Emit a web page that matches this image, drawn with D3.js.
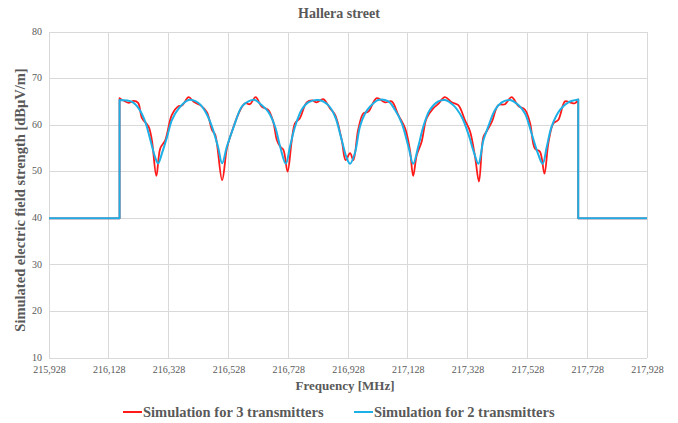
<!DOCTYPE html>
<html>
<head>
<meta charset="utf-8">
<script src="https://cdn.jsdelivr.net/npm/d3@7"></script>
<style>
  html, body { margin: 0; padding: 0; background: #ffffff; }
  svg { display: block; }
  text { font-family: "Liberation Serif", "Times New Roman", serif; }
</style>
</head>
<body>
<svg id="chart" width="678" height="423"></svg>
<script>
// ---- data ----
const xTicks = [215.928, 216.128, 216.328, 216.528, 216.728, 216.928, 217.128, 217.328, 217.528, 217.728, 217.928];
const xTickLabels = ["215,928", "216,128", "216,328", "216,528", "216,728", "216,928", "217,128", "217,328", "217,528", "217,728", "217,928"];
const yTicks = [10, 20, 30, 40, 50, 60, 70, 80];

const freq3 = [215.928, 216.164, 216.164, 216.195, 216.211, 216.226, 216.239, 216.261, 216.272, 216.287, 216.300,
  216.317, 216.339, 216.362, 216.373, 216.395, 216.412, 216.434, 216.456, 216.473, 216.484, 216.507, 216.523,
  216.540, 216.568, 216.584, 216.600, 216.619, 216.639, 216.661, 216.678, 216.690, 216.701, 216.712, 216.726,
  216.740, 216.751, 216.767, 216.790, 216.809, 216.823, 216.845, 216.868, 216.885, 216.907, 216.920, 216.935,
  216.946, 216.962, 216.979, 216.996, 217.024, 217.052, 217.074, 217.096, 217.119, 217.135, 217.146, 217.158,
  217.174, 217.191, 217.213, 217.229, 217.252, 217.275, 217.297, 217.319, 217.336, 217.353, 217.366, 217.381,
  217.392, 217.409, 217.431, 217.453, 217.475, 217.498, 217.520, 217.537, 217.553, 217.570, 217.585, 217.598,
  217.615, 217.631, 217.654, 217.670, 217.687, 217.698, 217.698, 217.928];
const sim3 = [40, 40, 65.8, 64.8, 65.2, 64.8, 61.5, 59.7, 56.8, 49.1, 55.0,
  56.8, 62.2, 64.1, 64.2, 66.0, 65.0, 64.3, 62.8, 59.0, 57.9, 48.2, 55.0,
  58.7, 63.3, 64.7, 64.5, 66.0, 64.0, 63.3, 60.7, 56.8, 55.4, 54.7, 50.0,
  56.8, 60.4, 61.5, 64.9, 65.3, 64.9, 65.6, 63.6, 62.2, 56.8, 52.5, 54.0,
  52.5, 59.0, 62.5, 62.9, 65.8, 64.9, 65.1, 62.2, 59.3, 54.7, 49.1, 53.6,
  56.4, 61.5, 63.6, 64.5, 66.0, 64.9, 64.3, 61.1, 58.7, 53.2, 47.9, 57.5,
  58.7, 60.7, 64.3, 64.5, 66.0, 64.1, 63.3, 60.4, 55.0, 54.3, 49.6, 56.1,
  60.4, 61.1, 65.1, 64.9, 64.7, 65.5, 40, 40];

const freq2 = [215.928, 216.164, 216.164, 216.206, 216.228, 216.250, 216.267, 216.284, 216.293, 216.306, 216.323,
  216.339, 216.362, 216.395, 216.429, 216.451, 216.473, 216.493, 216.507, 216.523, 216.546, 216.573, 216.595,
  216.617, 216.639, 216.661, 216.684, 216.701, 216.720, 216.734, 216.751, 216.773, 216.795, 216.829, 216.862,
  216.885, 216.907, 216.924, 216.935, 216.951, 216.968, 216.985, 217.002, 217.029, 217.063, 217.085, 217.108,
  217.130, 217.146, 217.163, 217.180, 217.202, 217.230, 217.252, 217.280, 217.308, 217.330, 217.350, 217.364,
  217.381, 217.397, 217.420, 217.442, 217.470, 217.498, 217.520, 217.542, 217.565, 217.579, 217.593, 217.609,
  217.637, 217.665, 217.698, 217.698, 217.928];
const sim2 = [40, 40, 65.4, 65.0, 63.6, 60.7, 56.8, 52.9, 51.8, 54.0, 57.5,
  61.1, 63.6, 65.4, 64.7, 62.9, 59.7, 55.4, 51.8, 55.4, 59.7, 64.0, 65.1,
  65.4, 64.3, 62.9, 59.7, 55.4, 51.7, 55.4, 59.7, 63.3, 64.9, 65.4, 64.3,
  61.8, 56.8, 52.9, 51.7, 54.0, 59.7, 62.5, 64.0, 65.4, 65.1, 63.3, 60.4,
  55.4, 51.7, 55.4, 59.7, 63.3, 65.1, 65.4, 64.3, 61.8, 58.2, 54.0, 51.7,
  56.8, 59.7, 63.3, 64.9, 65.4, 64.3, 62.5, 58.2, 53.6, 51.7, 55.4, 59.7,
  63.3, 64.9, 65.5, 40, 40];

const seriesNames = ["Simulation for 3 transmitters", "Simulation for 2 transmitters"];
const seriesColors = ["#ff1a1a", "#1cb0e6"];

// ---- layout ----
const svg = d3.select("#chart");
const margin = { left: 49, right: 31, top: 32, bottom: 65 };
const W = 678, H = 423;
const x = d3.scaleLinear().domain([215.928, 217.928]).range([margin.left, W - margin.right]);
const y = d3.scaleLinear().domain([10, 80]).range([H - margin.bottom, margin.top]);

const textColor = "#595959";
const gridColor = "#d9d9d9";

// gridlines
svg.append("g").selectAll("line.h").data(yTicks).join("line")
  .attr("x1", x.range()[0]).attr("x2", x.range()[1])
  .attr("y1", d => y(d)).attr("y2", d => y(d))
  .attr("stroke", gridColor).attr("stroke-width", 1).attr("shape-rendering", "crispEdges");
svg.append("g").selectAll("line.v").data(xTicks).join("line")
  .attr("x1", d => x(d)).attr("x2", d => x(d))
  .attr("y1", y.range()[0]).attr("y2", y.range()[1])
  .attr("stroke", gridColor).attr("stroke-width", 1).attr("shape-rendering", "crispEdges");

// axes (labels only)
const yAxis = d3.axisLeft(y).tickValues(yTicks).tickSize(0).tickPadding(7);
const gy = svg.append("g").attr("transform", `translate(${margin.left},-1)`).call(yAxis);
gy.select(".domain").remove();
gy.selectAll("text").attr("fill", textColor).style("font-size", "10px")
  .style("font-family", "'Liberation Serif', serif");

const xAxis = d3.axisBottom(x).tickValues(xTicks).tickFormat((d, i) => xTickLabels[i]).tickSize(0).tickPadding(8);
const gx = svg.append("g").attr("transform", `translate(0,${y.range()[0]})`).call(xAxis);
gx.select(".domain").remove();
gx.selectAll("text").attr("fill", textColor).style("font-size", "10px")
  .style("font-family", "'Liberation Serif', serif");

// lines: flat parts and the vertical edges straight, the in-band part smoothed
const smooth = d3.line().x(d => x(d[0])).y(d => y(d[1])).curve(d3.curveCatmullRom.alpha(0.5));
function pathFor(freqs, vals) {
  const pts = freqs.map((f, i) => [f, vals[i]]);
  const inBand = pts.filter(p => p[1] > 40);
  const before = pts.slice(0, pts.indexOf(inBand[0]));
  const after = pts.slice(pts.indexOf(inBand[inBand.length - 1]) + 1);
  let d = "M" + before.map(p => `${x(p[0])},${y(p[1])}`).join("L");
  d += smooth(inBand).replace(/^M/, "L");
  d += "L" + after.map(p => `${x(p[0])},${y(p[1])}`).join("L");
  return d;
}
svg.append("path").attr("d", pathFor(freq3, sim3)).attr("fill", "none")
  .attr("stroke", seriesColors[0]).attr("stroke-width", 1.8).attr("stroke-linejoin", "round");
svg.append("path").attr("d", pathFor(freq2, sim2)).attr("fill", "none")
  .attr("stroke", seriesColors[1]).attr("stroke-width", 2).attr("stroke-linejoin", "round");

// title
svg.append("text").attr("x", 339).attr("y", 18).attr("text-anchor", "middle")
  .attr("fill", textColor).style("font-size", "14px").style("font-weight", "bold")
  .text("Hallera street");

// axis titles
svg.append("text").attr("x", 345).attr("y", 390).attr("text-anchor", "middle")
  .attr("fill", textColor).style("font-size", "13px").style("font-weight", "bold")
  .text("Frequency [MHz]");
svg.append("text").attr("transform", `translate(25,200) rotate(-90)`)
  .attr("text-anchor", "middle")
  .attr("fill", textColor).style("font-size", "14.5px").style("font-weight", "bold")
  .text("Simulated electric field strength [dBμV/m]");

// legend
const legendX = [123, 354];
const lg = svg.append("g").selectAll("g").data(seriesNames).join("g")
  .attr("transform", (d, i) => `translate(${legendX[i]},412)`);
lg.append("line").attr("x1", 0).attr("x2", 19).attr("y1", 0).attr("y2", 0)
  .attr("stroke", (d, i) => seriesColors[i]).attr("stroke-width", 2);
lg.append("text").attr("x", 20).attr("y", 5).attr("fill", textColor)
  .style("font-size", "14.5px").style("font-weight", "bold").text(d => d);
</script>
</body>
</html>
